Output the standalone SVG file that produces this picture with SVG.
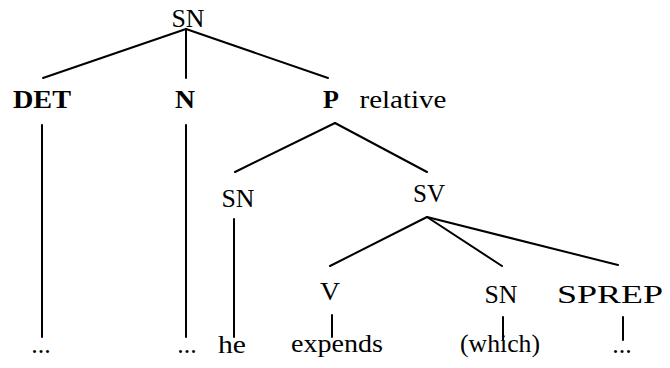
<svg xmlns="http://www.w3.org/2000/svg" width="670" height="368" viewBox="0 0 670 368">
<style>
.edges line{stroke:#000;stroke-width:2;stroke-linecap:round}
.b{font-weight:bold}
</style>
<rect width="670" height="368" fill="#fff"/>
<g class="edges" id="connectors">
<line x1="186" y1="29" x2="43" y2="78"/>
<line x1="186" y1="29" x2="186" y2="78"/>
<line x1="186" y1="29" x2="328" y2="78"/>
<line x1="42" y1="125" x2="42" y2="337"/>
<line x1="186" y1="125" x2="186" y2="337"/>
<line x1="335" y1="123" x2="235" y2="172"/>
<line x1="335" y1="123" x2="427" y2="172"/>
<line x1="234" y1="219" x2="234" y2="337"/>
<line x1="427" y1="217" x2="330" y2="266"/>
<line x1="427" y1="217" x2="502" y2="266"/>
<line x1="427" y1="217" x2="618" y2="265"/>
<line x1="332" y1="315" x2="332" y2="337"/>
<line x1="503" y1="317" x2="503" y2="340"/>
<line x1="623" y1="317" x2="623" y2="340"/>
</g>
<g font-family="Liberation Serif, Times New Roman, serif" font-size="26" text-anchor="middle" fill="#000">
<g id="n-sn-top"><text x="188" y="27" textLength="33" lengthAdjust="spacingAndGlyphs">SN</text></g>
<g id="n-det"><text class="b" x="42" y="108" textLength="58" lengthAdjust="spacingAndGlyphs">DET</text></g>
<g id="n-n"><text class="b" x="185" y="108" textLength="20" lengthAdjust="spacingAndGlyphs">N</text></g>
<g id="n-p"><text class="b" x="331" y="108">P</text><text x="403" y="108" textLength="87" lengthAdjust="spacingAndGlyphs">relative</text></g>
<g id="n-sn-mid"><text x="238" y="207" textLength="33" lengthAdjust="spacingAndGlyphs">SN</text></g>
<g id="n-sv"><text x="429" y="202" textLength="32" lengthAdjust="spacingAndGlyphs">SV</text></g>
<g id="n-v"><text x="330" y="300" textLength="20" lengthAdjust="spacingAndGlyphs">V</text></g>
<g id="n-sn-obj"><text x="501" y="303" textLength="33" lengthAdjust="spacingAndGlyphs">SN</text></g>
<g id="n-sprep"><text x="610" y="303" textLength="106" lengthAdjust="spacingAndGlyphs">SPREP</text></g>
<g id="l-det"><text x="41" y="353">...</text></g>
<g id="l-n"><text x="187" y="353">...</text></g>
<g id="l-he"><text x="232" y="353" textLength="28" lengthAdjust="spacingAndGlyphs">he</text></g>
<g id="l-expends"><text x="337" y="352" textLength="92" lengthAdjust="spacingAndGlyphs">expends</text></g>
<g id="l-which"><text x="500" y="352" textLength="80" lengthAdjust="spacingAndGlyphs">(which)</text></g>
<g id="l-sprep"><text x="622" y="353">...</text></g>
</g>
</svg>
